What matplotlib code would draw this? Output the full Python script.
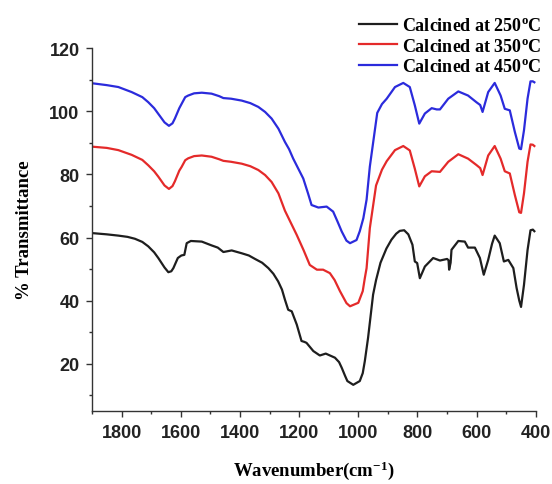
import numpy as np
import matplotlib
matplotlib.use("Agg")
import matplotlib.pyplot as plt
from matplotlib.ticker import MultipleLocator

plt.rcParams['mathtext.default'] = 'regular'

# FTIR spectra (wavenumber, % transmittance)
wn_250 = [1900, 1850, 1811, 1780, 1755, 1730, 1710, 1690, 1676, 1655, 1642, 1632, 1625,
          1610, 1598, 1588, 1580, 1566, 1529, 1496, 1475, 1456, 1428, 1394, 1370,
          1349, 1325, 1304, 1287, 1271, 1258, 1248, 1237, 1230, 1225, 1208, 1192,
          1182, 1175, 1152, 1130, 1110, 1079, 1065, 1056, 1045, 1037, 1017, 995,
          985, 978, 967, 950, 940, 925, 905, 888, 872, 860, 845, 831, 817, 809,
          801, 792, 775, 747, 724, 700, 695, 693, 688, 685, 662, 640, 629, 606,
          589, 576, 561, 548, 539, 522, 508, 493, 476, 465, 456, 450, 440, 428,
          418, 410, 405]
t_250 = [61.4, 61.0, 60.6, 60.2, 59.6, 58.6, 57.2, 55.3, 53.5, 50.5, 49.0, 49.3, 50.3,
         53.5, 54.3, 54.5, 58.2, 58.9, 58.7, 57.5, 56.8, 55.4, 55.9, 55.0, 54.3,
         53.2, 52.0, 50.3, 48.5, 46.1, 43.5, 40.3, 37.1, 36.8, 36.6, 32.4, 27.2,
         26.9, 26.6, 24.0, 22.6, 23.2, 21.9, 20.5, 18.7, 16.2, 14.5, 13.3, 14.5,
         17.0, 20.8, 28.2, 41.9, 46.5, 52.0, 56.5, 59.3, 61.2, 62.1, 62.3, 61.0,
         57.7, 52.4, 51.9, 47.1, 50.8, 53.5, 52.7, 53.2, 52.8, 49.8, 52.0, 56.1,
         58.9, 58.7, 56.8, 56.8, 53.5, 48.2, 52.9, 58.0, 60.6, 58.2, 52.4, 52.9,
         50.3, 44.0, 40.0, 38.0, 45.0, 56.0, 62.3, 62.5, 62.0]

wn_350 = [1900, 1850, 1811, 1766, 1730, 1710, 1690, 1676, 1655, 1640, 1628, 1620, 1605,
          1597, 1585, 1575, 1555, 1529, 1496, 1470, 1456, 1430, 1394, 1365, 1338,
          1315, 1293, 1270, 1248, 1208, 1185, 1164, 1140, 1119, 1096, 1080, 1062,
          1040, 1028, 1000, 985, 978, 972, 961, 940, 920, 904, 876, 848, 826, 809,
          794, 775, 752, 724, 696, 662, 629, 601, 588, 580, 561, 539, 519, 505,
          488, 471, 456, 450, 440, 428, 418, 410, 405]
t_350 = [88.8, 88.4, 87.7, 86.2, 84.6, 82.9, 81.0, 79.3, 76.5, 75.4, 76.3, 77.8, 81.2,
         82.4, 84.5, 85.1, 85.8, 86.0, 85.6, 84.8, 84.3, 84.0, 83.4, 82.6, 81.4,
         79.8, 77.6, 74.0, 68.5, 60.8, 56.0, 51.3, 49.8, 49.8, 48.7, 46.5, 43.0,
         39.2, 38.2, 39.3, 43.0, 47.1, 50.3, 63.0, 76.5, 81.5, 84.2, 87.7, 89.0,
         87.6, 81.8, 76.2, 79.4, 81.0, 80.8, 84.0, 86.4, 85.0, 83.0, 82.0, 79.8,
         86.0, 89.0, 85.0, 81.0, 80.3, 73.5, 68.0, 67.8, 74.0, 84.0, 89.5, 89.4,
         89.0]

wn_450 = [1900, 1850, 1811, 1766, 1730, 1710, 1690, 1676, 1655, 1640, 1628, 1620, 1605,
          1597, 1585, 1575, 1555, 1529, 1496, 1470, 1456, 1430, 1394, 1365, 1338,
          1315, 1293, 1270, 1248, 1234, 1220, 1186, 1170, 1158, 1135, 1107, 1085,
          1070, 1056, 1040, 1028, 1006, 995, 983, 972, 961, 936, 920, 904, 876,
          848, 826, 809, 794, 775, 752, 735, 724, 696, 662, 629, 601, 588, 580,
          561, 539, 519, 505, 488, 471, 456, 450, 440, 428, 418, 410, 405]
t_450 = [108.9, 108.3, 107.7, 106.1, 104.5, 102.9, 101.0, 99.2, 96.5, 95.4, 96.2, 97.7, 101.0,
         102.4, 104.5, 105.0, 105.7, 105.9, 105.6, 104.8, 104.2, 104.0, 103.4, 102.6, 101.4,
         99.8, 97.7, 94.5, 90.3, 88.0, 85.0, 78.7, 74.0, 70.3, 69.5, 69.8, 68.2,
         65.0, 61.9, 59.0, 58.2, 59.2, 62.0, 66.1, 72.0, 82.5, 99.5, 102.3, 104.0,
         107.7, 109.0, 107.7, 101.9, 96.1, 99.3, 101.0, 100.6, 100.6, 104.0, 106.3, 105.0,
         102.9, 102.0, 99.8, 106.1, 109.0, 105.0, 100.8, 100.3, 93.5, 88.2, 88.0, 94.0,
         104.0, 109.5, 109.5, 109.2]

labels = ['Calcined at 250$^{o}$C', 'Calcined at 350$^{o}$C', 'Calcined at 450$^{o}$C']
colors = ['#1e1e1e', '#e42a2a', '#2b2bdc']

fig = plt.figure(figsize=(5.52, 4.85), dpi=100)
ax = fig.add_axes([0.1667, 0.1505, 0.804, 0.748])

for wn, t, lab, c in zip([wn_250, wn_350, wn_450], [t_250, t_350, t_450], labels, colors):
    ax.plot(wn, t, color=c, lw=1.6, label=lab, solid_joinstyle='round')

ax.set_xlim(1900, 400)
ax.set_ylim(5, 120)
ax.xaxis.set_major_locator(MultipleLocator(200))
ax.xaxis.set_minor_locator(MultipleLocator(100))
ax.yaxis.set_major_locator(MultipleLocator(20))
ax.yaxis.set_minor_locator(MultipleLocator(10))

for s in ['top', 'right']:
    ax.spines[s].set_visible(False)
for s in ['left', 'bottom']:
    ax.spines[s].set_color('#333333')
    ax.spines[s].set_linewidth(1.0)

ax.tick_params(which='major', direction='out', length=4, width=1, color='#333333', pad=5)
ax.tick_params(which='minor', direction='out', length=2.5, width=1, color='#333333')
for lbl in ax.get_xticklabels() + ax.get_yticklabels():
    lbl.set_fontfamily('Liberation Sans')
    lbl.set_fontweight('bold')
    lbl.set_fontsize(13)
    lbl.set_color('#222222')

ax.set_xlabel('Wavenumber(cm$^{-1}$)', fontfamily='Liberation Serif', fontweight='bold',
              fontsize=13.5, labelpad=13)
ax.set_ylabel('% Transmittance', fontfamily='Liberation Serif', fontweight='bold',
              fontsize=13.5, labelpad=12)

leg = ax.legend(loc='upper right', bbox_to_anchor=(0.995, 0.978), bbox_transform=fig.transFigure,
                frameon=False, handlelength=2.1, handletextpad=0.3, labelspacing=0.2,
                borderaxespad=0, prop={'family': 'Liberation Serif', 'weight': 'bold', 'size': 13})

fig.savefig('out.png', dpi=100)
